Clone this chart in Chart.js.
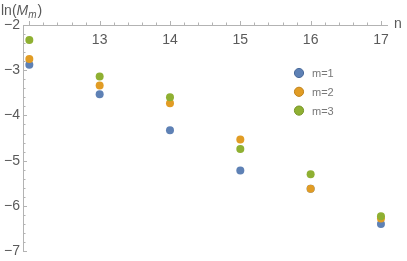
<!DOCTYPE html>
<html>
<head>
	<meta charset="utf-8">
	<title>ln(M_m) vs n</title>
	<script src="https://cdn.jsdelivr.net/npm/chart.js@4.4.0/dist/chart.umd.min.js"></script>
	<style>
		body { margin: 0; background: #fff; }
		#wrap { width: 407px; height: 261px; }
	</style>
</head>
<body>
	<div id="wrap"><canvas id="mychart" width="407" height="261"></canvas></div>

	<script type="text/javascript">

		const ns = [12, 13, 14, 15, 16, 17];
		const m1 = [-2.88, -3.53, -4.33, -5.22, -5.62, -6.40];
		const m2 = [-2.75, -3.34, -3.73, -4.53, -5.62, -6.28];
		const m3 = [-2.33, -3.14, -3.60, -4.74, -5.30, -6.23];
		const seriesLabels = ['m=1', 'm=2', 'm=3'];
		const colors = ['#5e81b5', '#e19c24', '#8fb032'];
		const borders = ['#4a6a9a', '#c0821a', '#769426'];
		const xTicks = [13, 14, 15, 16, 17];
		const yTicks = [-2, -3, -4, -5, -6, -7];

		function pts(ys) {
			return ns.map((n, i) => ({ x: n, y: ys[i] }));
		}

		// draws the Mathematica style axes crossing at the top left
		const axesPlugin = {
			id: 'axes',
			afterDraw(chart) {
				const ctx = chart.ctx;
				const xs = chart.scales.x;
				const ys = chart.scales.y;
				const x0 = xs.getPixelForValue(xs.min);
				const y0 = ys.getPixelForValue(ys.max);
				const x1 = xs.getPixelForValue(xs.max);
				const y1 = ys.getPixelForValue(ys.min);
				ctx.save();
				ctx.strokeStyle = '#b3b3b3';
				ctx.lineWidth = 1;
				ctx.beginPath();
				ctx.moveTo(x0, y0 + 0.5);
				ctx.lineTo(x1, y0 + 0.5);
				ctx.moveTo(x0 + 0.5, y0);
				ctx.lineTo(x0 + 0.5, y1);
				// x ticks (major + minor)
				for (let v = 12; v <= 17.01; v += 0.2) {
					if (v < xs.min) continue;
					const px = Math.round(xs.getPixelForValue(v)) + 0.5;
					const major = Math.abs(v - Math.round(v)) < 0.01;
					ctx.moveTo(px, y0);
					ctx.lineTo(px, y0 - (major ? 4 : 2.5));
				}
				// y ticks
				for (let v = -7; v <= -2.01; v += 0.2) {
					const py = Math.round(ys.getPixelForValue(v)) + 0.5;
					const major = Math.abs(v - Math.round(v)) < 0.01;
					ctx.moveTo(x0, py);
					ctx.lineTo(x0 + (major ? 4 : 2.5), py);
				}
				ctx.stroke();

				ctx.fillStyle = '#5a5a5a';
				ctx.font = '14px "Liberation Sans", Arial, sans-serif';
				ctx.textAlign = 'center';
				ctx.textBaseline = 'middle';
				xTicks.forEach(v => {
					ctx.fillText(String(v), xs.getPixelForValue(v), y0 + 15);
				});
				ctx.textAlign = 'right';
				yTicks.forEach(v => {
					ctx.fillText('\u2212' + Math.abs(v), x0 - 3, ys.getPixelForValue(v));
				});
				ctx.textAlign = 'left';
				ctx.fillText('n', x1 + 6, y0 - 1);

				// y axis label ln(M_m)
				ctx.textBaseline = 'alphabetic';
				let cx = 1;
				const base = 15;
				ctx.font = '14px "Liberation Sans", Arial, sans-serif';
				ctx.fillText('ln(', cx, base); cx += ctx.measureText('ln(').width;
				ctx.font = 'italic 14px "Liberation Sans", Arial, sans-serif';
				ctx.fillText('M', cx, base); cx += ctx.measureText('M').width;
				ctx.font = 'italic 10px "Liberation Sans", Arial, sans-serif';
				ctx.fillText('m', cx, base + 3); cx += ctx.measureText('m').width + 1;
				ctx.font = '14px "Liberation Sans", Arial, sans-serif';
				ctx.fillText(')', cx, base);

				// legend
				const lx = 299, ly = 73, step = 18.8;
				seriesLabels.forEach((lab, i) => {
					const yy = ly + i * step;
					ctx.beginPath();
					ctx.arc(lx, yy, 4.6, 0, Math.PI * 2);
					ctx.fillStyle = colors[i];
					ctx.fill();
					ctx.lineWidth = 1;
					ctx.strokeStyle = borders[i];
					ctx.stroke();
					ctx.fillStyle = '#777';
					ctx.font = '11px "Liberation Sans", Arial, sans-serif';
					ctx.textBaseline = 'middle';
					ctx.fillText(lab, lx + 13, yy + 1);
				});
				ctx.restore();
			}
		};

		const ctx = document.getElementById('mychart').getContext('2d');
		const myChart = new Chart(ctx, {
			type: 'scatter',
			data: {
				datasets: [m1, m2, m3].map((ys, i) => ({
					label: seriesLabels[i],
					data: pts(ys),
					backgroundColor: colors[i],
					borderWidth: 0,
					pointRadius: 4,
					pointHoverRadius: 4,
					order: 3 - i  // later series drawn on top
				}))
			},
			options: {
				responsive: false,
				animation: false,
				layout: { padding: { left: 23, right: 19, top: 25, bottom: 9 } },
				plugins: { legend: { display: false }, tooltip: { enabled: false } },
				scales: {
					x: { type: 'linear', min: 11.91, max: 17.1, display: false },
					y: { type: 'linear', min: -7.02, max: -2, display: false }
				}
			},
			plugins: [axesPlugin]
		});

	</script>
</body>
</html>
